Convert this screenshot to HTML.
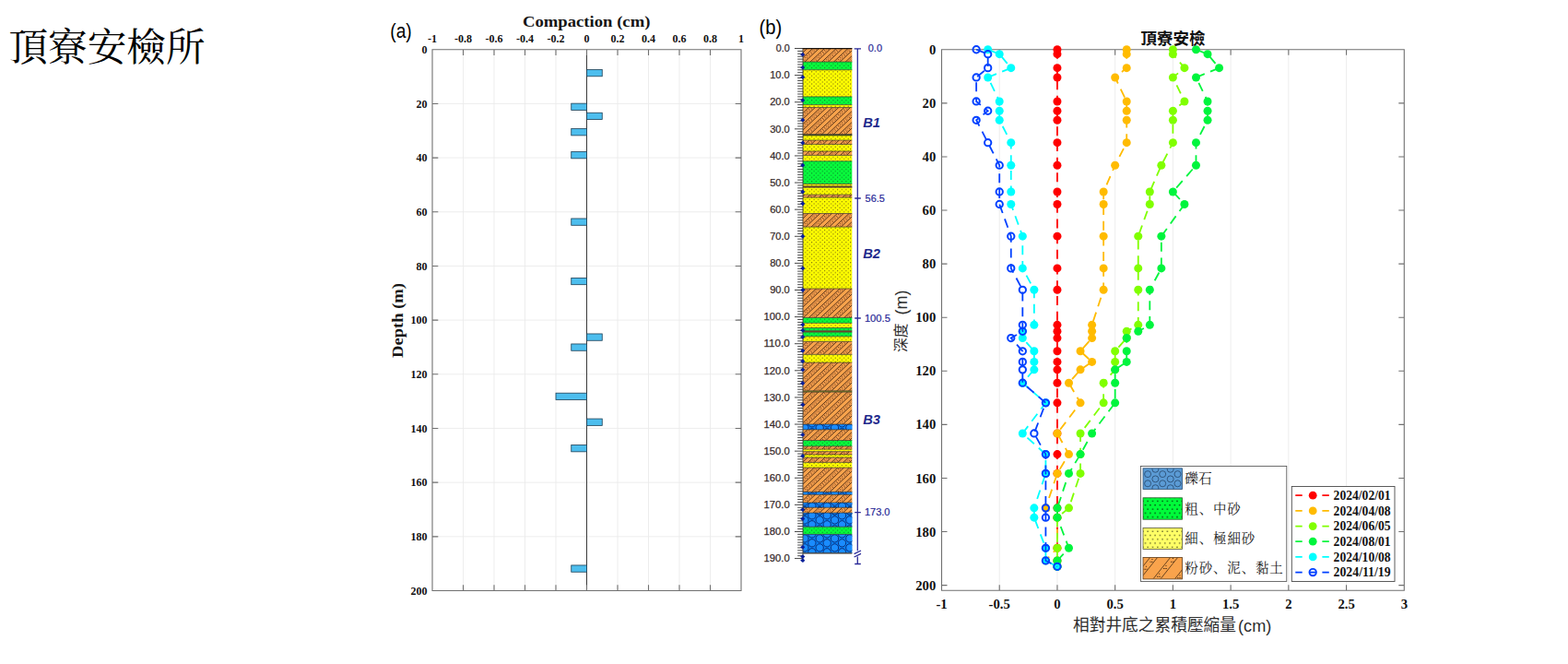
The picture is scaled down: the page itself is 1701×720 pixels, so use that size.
<!DOCTYPE html>
<html><head><meta charset="utf-8"><title>chart</title>
<style>html,body{margin:0;padding:0;background:#fff}svg{display:block}text{white-space:pre}</style></head>
<body><svg width="1701" height="720" viewBox="0 0 1701 720">
<rect width="1701" height="720" fill="#fff"/>
<text x="9.5" y="66" font-family="Liberation Serif, Noto Serif CJK SC, serif" font-size="42.6" fill="#000" textLength="213" lengthAdjust="spacingAndGlyphs">頂寮安檢所</text>
<path d="M502.50 53.75V640.5M536.00 53.75V640.5M569.50 53.75V640.5M603.00 53.75V640.5M670.00 53.75V640.5M703.50 53.75V640.5M737.00 53.75V640.5M770.50 53.75V640.5M469.0 112.43H804.0M469.0 171.10H804.0M469.0 229.78H804.0M469.0 288.45H804.0M469.0 347.12H804.0M469.0 405.80H804.0M469.0 464.47H804.0M469.0 523.15H804.0M469.0 581.83H804.0" stroke="#ebebeb" stroke-width="0.9" fill="none"/>
<path d="M636.50 53.75V640.5" stroke="#3a3a3a" stroke-width="1"/>
<rect x="636.50" y="75.48" width="16.75" height="7.3" fill="#4dbeee" stroke="#1d3f55" stroke-width="0.8"/>
<rect x="619.75" y="112.15" width="16.75" height="7.3" fill="#4dbeee" stroke="#1d3f55" stroke-width="0.8"/>
<rect x="636.50" y="122.27" width="16.75" height="7.3" fill="#4dbeee" stroke="#1d3f55" stroke-width="0.8"/>
<rect x="619.75" y="139.58" width="16.75" height="7.3" fill="#4dbeee" stroke="#1d3f55" stroke-width="0.8"/>
<rect x="619.75" y="164.52" width="16.75" height="7.3" fill="#4dbeee" stroke="#1d3f55" stroke-width="0.8"/>
<rect x="619.75" y="236.98" width="16.75" height="7.3" fill="#4dbeee" stroke="#1d3f55" stroke-width="0.8"/>
<rect x="619.75" y="301.38" width="16.75" height="7.3" fill="#4dbeee" stroke="#1d3f55" stroke-width="0.8"/>
<rect x="636.50" y="361.96" width="16.75" height="7.3" fill="#4dbeee" stroke="#1d3f55" stroke-width="0.8"/>
<rect x="619.75" y="372.96" width="16.75" height="7.3" fill="#4dbeee" stroke="#1d3f55" stroke-width="0.8"/>
<rect x="603.00" y="426.21" width="33.50" height="7.3" fill="#4dbeee" stroke="#1d3f55" stroke-width="0.8"/>
<rect x="636.50" y="454.08" width="16.75" height="7.3" fill="#4dbeee" stroke="#1d3f55" stroke-width="0.8"/>
<rect x="619.75" y="482.53" width="16.75" height="7.3" fill="#4dbeee" stroke="#1d3f55" stroke-width="0.8"/>
<rect x="619.75" y="612.94" width="16.75" height="7.3" fill="#4dbeee" stroke="#1d3f55" stroke-width="0.8"/>
<path d="M469.0 53.75H804.0V640.5H469.0ZM502.50 53.75v6.3M502.50 640.5v-6.3M536.00 53.75v6.3M536.00 640.5v-6.3M569.50 53.75v6.3M569.50 640.5v-6.3M603.00 53.75v6.3M603.00 640.5v-6.3M636.50 53.75v6.3M636.50 640.5v-6.3M670.00 53.75v6.3M670.00 640.5v-6.3M703.50 53.75v6.3M703.50 640.5v-6.3M737.00 53.75v6.3M737.00 640.5v-6.3M770.50 53.75v6.3M770.50 640.5v-6.3M469.0 112.43h6.3M804.0 112.43h-6.3M469.0 171.10h6.3M804.0 171.10h-6.3M469.0 229.78h6.3M804.0 229.78h-6.3M469.0 288.45h6.3M804.0 288.45h-6.3M469.0 347.12h6.3M804.0 347.12h-6.3M469.0 405.80h6.3M804.0 405.80h-6.3M469.0 464.47h6.3M804.0 464.47h-6.3M469.0 523.15h6.3M804.0 523.15h-6.3M469.0 581.83h6.3M804.0 581.83h-6.3" stroke="#707070" stroke-width="1.1" fill="none"/>
<text x="469.00" y="46.2" font-family="Liberation Serif, serif" font-weight="bold" font-size="12" text-anchor="middle" fill="#111">-1</text>
<text x="502.50" y="46.2" font-family="Liberation Serif, serif" font-weight="bold" font-size="12" text-anchor="middle" fill="#111">-0.8</text>
<text x="536.00" y="46.2" font-family="Liberation Serif, serif" font-weight="bold" font-size="12" text-anchor="middle" fill="#111">-0.6</text>
<text x="569.50" y="46.2" font-family="Liberation Serif, serif" font-weight="bold" font-size="12" text-anchor="middle" fill="#111">-0.4</text>
<text x="603.00" y="46.2" font-family="Liberation Serif, serif" font-weight="bold" font-size="12" text-anchor="middle" fill="#111">-0.2</text>
<text x="636.50" y="46.2" font-family="Liberation Serif, serif" font-weight="bold" font-size="12" text-anchor="middle" fill="#111">0</text>
<text x="670.00" y="46.2" font-family="Liberation Serif, serif" font-weight="bold" font-size="12" text-anchor="middle" fill="#111">0.2</text>
<text x="703.50" y="46.2" font-family="Liberation Serif, serif" font-weight="bold" font-size="12" text-anchor="middle" fill="#111">0.4</text>
<text x="737.00" y="46.2" font-family="Liberation Serif, serif" font-weight="bold" font-size="12" text-anchor="middle" fill="#111">0.6</text>
<text x="770.50" y="46.2" font-family="Liberation Serif, serif" font-weight="bold" font-size="12" text-anchor="middle" fill="#111">0.8</text>
<text x="804.00" y="46.2" font-family="Liberation Serif, serif" font-weight="bold" font-size="12" text-anchor="middle" fill="#111">1</text>
<text x="463.5" y="58.05" font-family="Liberation Serif, serif" font-weight="bold" font-size="12" text-anchor="end" fill="#111">0</text>
<text x="463.5" y="116.73" font-family="Liberation Serif, serif" font-weight="bold" font-size="12" text-anchor="end" fill="#111">20</text>
<text x="463.5" y="175.40" font-family="Liberation Serif, serif" font-weight="bold" font-size="12" text-anchor="end" fill="#111">40</text>
<text x="463.5" y="234.08" font-family="Liberation Serif, serif" font-weight="bold" font-size="12" text-anchor="end" fill="#111">60</text>
<text x="463.5" y="292.75" font-family="Liberation Serif, serif" font-weight="bold" font-size="12" text-anchor="end" fill="#111">80</text>
<text x="463.5" y="351.43" font-family="Liberation Serif, serif" font-weight="bold" font-size="12" text-anchor="end" fill="#111">100</text>
<text x="463.5" y="410.10" font-family="Liberation Serif, serif" font-weight="bold" font-size="12" text-anchor="end" fill="#111">120</text>
<text x="463.5" y="468.77" font-family="Liberation Serif, serif" font-weight="bold" font-size="12" text-anchor="end" fill="#111">140</text>
<text x="463.5" y="527.45" font-family="Liberation Serif, serif" font-weight="bold" font-size="12" text-anchor="end" fill="#111">160</text>
<text x="463.5" y="586.12" font-family="Liberation Serif, serif" font-weight="bold" font-size="12" text-anchor="end" fill="#111">180</text>
<text x="463.5" y="644.80" font-family="Liberation Serif, serif" font-weight="bold" font-size="12" text-anchor="end" fill="#111">200</text>
<text x="636.2" y="29" font-family="Liberation Serif, serif" font-weight="bold" font-size="17.6" text-anchor="middle" fill="#151515" textLength="138.5" lengthAdjust="spacingAndGlyphs">Compaction (cm)</text>
<text transform="translate(436.9,388) rotate(-90)" font-family="Liberation Serif, serif" font-weight="bold" font-size="17.6" fill="#151515" textLength="81" lengthAdjust="spacingAndGlyphs">Depth (m)</text>
<text x="423.3" y="41.0" font-family="Liberation Sans, sans-serif" font-size="22.4" fill="#000" textLength="23.4" lengthAdjust="spacingAndGlyphs">(a)</text>
<text x="823.5" y="37.0" font-family="Liberation Sans, sans-serif" font-size="22.4" fill="#000" textLength="24.8" lengthAdjust="spacingAndGlyphs">(b)</text>
<defs>
<pattern id="pO" patternUnits="userSpaceOnUse" width="5.2" height="6.9" patternTransform="translate(871,52) rotate(-32)">
<rect width="5.2" height="6.9" fill="#f9a34c"/>
<path d="M0 0.6H5.2M0 4.0H5.2" stroke="#4a2c14" stroke-width="0.65"/>
<path d="M0.6 1.7h0.9M3.2 2.9h0.9" stroke="#7a4a20" stroke-width="0.7"/>
</pattern>
<pattern id="pY" patternUnits="userSpaceOnUse" width="4.66" height="4.4" patternTransform="translate(872.6,52.6)">
<rect width="4.66" height="4.4" fill="#ffff00"/>
<circle cx="1.1" cy="1.1" r="0.62" fill="#6b5a10"/><circle cx="3.43" cy="3.3" r="0.62" fill="#6b5a10"/>
</pattern>
<pattern id="pG" patternUnits="userSpaceOnUse" width="4.66" height="4.4" patternTransform="translate(872.6,52.6)">
<rect width="4.66" height="4.4" fill="#08fb3c"/>
<circle cx="1.1" cy="1.1" r="0.62" fill="#0a7a28"/><circle cx="3.43" cy="3.3" r="0.62" fill="#0a7a28"/>
</pattern>
<pattern id="pB" patternUnits="userSpaceOnUse" width="16" height="10" patternTransform="translate(871,552.5)">
<rect width="16" height="10" fill="#0a84fb"/>
<g fill="none" stroke="#0b2f7a" stroke-width="0.65"><circle cx="4" cy="0" r="3.4"/><circle cx="4" cy="10" r="3.4"/><circle cx="12" cy="5" r="3.4"/>
<circle cx="12" cy="0" r="1.1" stroke-width="0.5"/><circle cx="12" cy="10" r="1.1" stroke-width="0.5"/><circle cx="4" cy="5" r="1.1" stroke-width="0.5"/></g>
</pattern>
<pattern id="lB" patternUnits="userSpaceOnUse" width="16.3" height="10.3" patternTransform="translate(1237,508.8)">
<rect width="16.3" height="10.3" fill="#5b9bd5"/>
<g fill="none" stroke="#27486b" stroke-width="0.85"><circle cx="8.15" cy="5.15" r="4.15"/><circle cx="0" cy="0" r="4.15"/><circle cx="16.3" cy="0" r="4.15"/><circle cx="0" cy="10.3" r="4.15"/><circle cx="16.3" cy="10.3" r="4.15"/></g>
</pattern>
<pattern id="lG" patternUnits="userSpaceOnUse" width="5.3" height="8.6" patternTransform="translate(1239.9,541.3)">
<rect width="5.3" height="8.6" fill="#00fb3a"/>
<circle cx="2.65" cy="6.45" r="0.75" fill="#061a06"/><circle cx="0" cy="2.15" r="0.75" fill="#061a06"/><circle cx="5.3" cy="2.15" r="0.75" fill="#061a06"/>
</pattern>
<pattern id="lY" patternUnits="userSpaceOnUse" width="5.3" height="8.6" patternTransform="translate(1239.9,574.0)">
<rect width="5.3" height="8.6" fill="#ffff66"/>
<circle cx="2.65" cy="6.45" r="0.7" fill="#2a2a10"/><circle cx="0" cy="2.15" r="0.7" fill="#2a2a10"/><circle cx="5.3" cy="2.15" r="0.7" fill="#2a2a10"/>
</pattern>
</defs>
<path d="M862 52.50H871.0M865.2 55.41H871.0M865.2 58.32H871.0M865.2 61.23H871.0M865.2 64.14H871.0M865.2 67.06H871.0M865.2 69.97H871.0M865.2 72.88H871.0M865.2 75.79H871.0M865.2 78.70H871.0M862 81.61H871.0M865.2 84.52H871.0M865.2 87.43H871.0M865.2 90.34H871.0M865.2 93.25H871.0M865.2 96.16H871.0M865.2 99.08H871.0M865.2 101.99H871.0M865.2 104.90H871.0M865.2 107.81H871.0M862 110.72H871.0M865.2 113.63H871.0M865.2 116.54H871.0M865.2 119.45H871.0M865.2 122.36H871.0M865.2 125.28H871.0M865.2 128.19H871.0M865.2 131.10H871.0M865.2 134.01H871.0M865.2 136.92H871.0M862 139.83H871.0M865.2 142.74H871.0M865.2 145.65H871.0M865.2 148.56H871.0M865.2 151.47H871.0M865.2 154.38H871.0M865.2 157.30H871.0M865.2 160.21H871.0M865.2 163.12H871.0M865.2 166.03H871.0M862 168.94H871.0M865.2 171.85H871.0M865.2 174.76H871.0M865.2 177.67H871.0M865.2 180.58H871.0M865.2 183.50H871.0M865.2 186.41H871.0M865.2 189.32H871.0M865.2 192.23H871.0M865.2 195.14H871.0M862 198.05H871.0M865.2 200.96H871.0M865.2 203.87H871.0M865.2 206.78H871.0M865.2 209.69H871.0M865.2 212.60H871.0M865.2 215.52H871.0M865.2 218.43H871.0M865.2 221.34H871.0M865.2 224.25H871.0M862 227.16H871.0M865.2 230.07H871.0M865.2 232.98H871.0M865.2 235.89H871.0M865.2 238.80H871.0M865.2 241.72H871.0M865.2 244.63H871.0M865.2 247.54H871.0M865.2 250.45H871.0M865.2 253.36H871.0M862 256.27H871.0M865.2 259.18H871.0M865.2 262.09H871.0M865.2 265.00H871.0M865.2 267.91H871.0M865.2 270.82H871.0M865.2 273.74H871.0M865.2 276.65H871.0M865.2 279.56H871.0M865.2 282.47H871.0M862 285.38H871.0M865.2 288.29H871.0M865.2 291.20H871.0M865.2 294.11H871.0M865.2 297.02H871.0M865.2 299.94H871.0M865.2 302.85H871.0M865.2 305.76H871.0M865.2 308.67H871.0M865.2 311.58H871.0M862 314.49H871.0M865.2 317.40H871.0M865.2 320.31H871.0M865.2 323.22H871.0M865.2 326.13H871.0M865.2 329.05H871.0M865.2 331.96H871.0M865.2 334.87H871.0M865.2 337.78H871.0M865.2 340.69H871.0M862 343.60H871.0M865.2 346.51H871.0M865.2 349.42H871.0M865.2 352.33H871.0M865.2 355.24H871.0M865.2 358.16H871.0M865.2 361.07H871.0M865.2 363.98H871.0M865.2 366.89H871.0M865.2 369.80H871.0M862 372.71H871.0M865.2 375.62H871.0M865.2 378.53H871.0M865.2 381.44H871.0M865.2 384.35H871.0M865.2 387.26H871.0M865.2 390.18H871.0M865.2 393.09H871.0M865.2 396.00H871.0M865.2 398.91H871.0M862 401.82H871.0M865.2 404.73H871.0M865.2 407.64H871.0M865.2 410.55H871.0M865.2 413.46H871.0M865.2 416.38H871.0M865.2 419.29H871.0M865.2 422.20H871.0M865.2 425.11H871.0M865.2 428.02H871.0M862 430.93H871.0M865.2 433.84H871.0M865.2 436.75H871.0M865.2 439.66H871.0M865.2 442.57H871.0M865.2 445.49H871.0M865.2 448.40H871.0M865.2 451.31H871.0M865.2 454.22H871.0M865.2 457.13H871.0M862 460.04H871.0M865.2 462.95H871.0M865.2 465.86H871.0M865.2 468.77H871.0M865.2 471.68H871.0M865.2 474.60H871.0M865.2 477.51H871.0M865.2 480.42H871.0M865.2 483.33H871.0M865.2 486.24H871.0M862 489.15H871.0M865.2 492.06H871.0M865.2 494.97H871.0M865.2 497.88H871.0M865.2 500.79H871.0M865.2 503.70H871.0M865.2 506.62H871.0M865.2 509.53H871.0M865.2 512.44H871.0M865.2 515.35H871.0M862 518.26H871.0M865.2 521.17H871.0M865.2 524.08H871.0M865.2 526.99H871.0M865.2 529.90H871.0M865.2 532.82H871.0M865.2 535.73H871.0M865.2 538.64H871.0M865.2 541.55H871.0M865.2 544.46H871.0M862 547.37H871.0M865.2 550.28H871.0M865.2 553.19H871.0M865.2 556.10H871.0M865.2 559.01H871.0M865.2 561.92H871.0M865.2 564.84H871.0M865.2 567.75H871.0M865.2 570.66H871.0M865.2 573.57H871.0M862 576.48H871.0M865.2 579.39H871.0M865.2 582.30H871.0M865.2 585.21H871.0M865.2 588.12H871.0M865.2 591.03H871.0M865.2 593.95H871.0M865.2 596.86H871.0M865.2 599.77H871.0M865.2 602.68H871.0M862 605.59H871.0" stroke="#3d3d3d" stroke-width="0.95" fill="none"/>
<rect x="871.0" y="52.50" width="53.30" height="14.56" fill="#f9a34c"/>
<rect x="871.0" y="67.06" width="53.30" height="8.73" fill="url(#pG)"/>
<rect x="871.0" y="75.79" width="53.30" height="29.11" fill="url(#pY)"/>
<rect x="871.0" y="104.90" width="53.30" height="8.73" fill="url(#pG)"/>
<rect x="871.0" y="113.63" width="53.30" height="2.91" fill="url(#pY)"/>
<rect x="871.0" y="116.54" width="53.30" height="29.11" fill="#f9a34c"/>
<rect x="871.0" y="145.65" width="53.30" height="1.31" fill="#3c4a1a"/>
<rect x="871.0" y="146.96" width="53.30" height="5.09" fill="url(#pY)"/>
<rect x="871.0" y="152.06" width="53.30" height="4.37" fill="#f9a34c"/>
<rect x="871.0" y="156.42" width="53.30" height="7.57" fill="url(#pY)"/>
<rect x="871.0" y="163.99" width="53.30" height="4.37" fill="#f9a34c"/>
<rect x="871.0" y="168.36" width="53.30" height="6.40" fill="url(#pY)"/>
<rect x="871.0" y="174.76" width="53.30" height="24.74" fill="url(#pG)"/>
<rect x="871.0" y="199.51" width="53.30" height="2.33" fill="url(#pY)"/>
<rect x="871.0" y="201.83" width="53.30" height="1.46" fill="#8a5a2a"/>
<rect x="871.0" y="203.29" width="53.30" height="7.86" fill="url(#pY)"/>
<rect x="871.0" y="211.15" width="53.30" height="2.91" fill="#f9a34c"/>
<rect x="871.0" y="214.06" width="53.30" height="17.47" fill="url(#pY)"/>
<rect x="871.0" y="231.53" width="53.30" height="14.56" fill="#f9a34c"/>
<rect x="871.0" y="246.08" width="53.30" height="66.95" fill="url(#pY)"/>
<rect x="871.0" y="313.03" width="53.30" height="31.44" fill="#f9a34c"/>
<rect x="871.0" y="344.47" width="53.30" height="5.82" fill="url(#pG)"/>
<rect x="871.0" y="350.30" width="53.30" height="5.24" fill="url(#pY)"/>
<rect x="871.0" y="355.54" width="53.30" height="3.20" fill="url(#pG)"/>
<rect x="871.0" y="358.74" width="53.30" height="1.46" fill="#8a5a2a"/>
<rect x="871.0" y="360.19" width="53.30" height="4.66" fill="url(#pG)"/>
<rect x="871.0" y="364.85" width="53.30" height="5.53" fill="url(#pY)"/>
<rect x="871.0" y="370.38" width="53.30" height="13.97" fill="#f9a34c"/>
<rect x="871.0" y="384.35" width="53.30" height="8.73" fill="url(#pY)"/>
<rect x="871.0" y="393.09" width="53.30" height="30.71" fill="#f9a34c"/>
<rect x="871.0" y="423.80" width="53.30" height="1.31" fill="#8a8a2a"/>
<rect x="871.0" y="425.11" width="53.30" height="34.93" fill="#f9a34c"/>
<rect x="871.0" y="460.04" width="53.30" height="5.82" fill="#0a84fb"/>
<rect x="871.0" y="465.86" width="53.30" height="11.64" fill="#f9a34c"/>
<rect x="871.0" y="477.51" width="53.30" height="6.40" fill="url(#pG)"/>
<rect x="871.0" y="483.91" width="53.30" height="3.20" fill="#f9a34c"/>
<rect x="871.0" y="487.11" width="53.30" height="2.62" fill="url(#pY)"/>
<rect x="871.0" y="489.73" width="53.30" height="3.20" fill="#f9a34c"/>
<rect x="871.0" y="492.93" width="53.30" height="3.20" fill="url(#pY)"/>
<rect x="871.0" y="496.14" width="53.30" height="5.24" fill="#f9a34c"/>
<rect x="871.0" y="501.38" width="53.30" height="5.82" fill="url(#pY)"/>
<rect x="871.0" y="507.20" width="53.30" height="26.20" fill="#f9a34c"/>
<rect x="871.0" y="533.40" width="53.30" height="2.91" fill="#0a84fb"/>
<rect x="871.0" y="536.31" width="53.30" height="8.73" fill="#f9a34c"/>
<rect x="871.0" y="545.04" width="53.30" height="5.24" fill="#0a84fb"/>
<rect x="871.0" y="550.28" width="53.30" height="5.82" fill="#f9a34c"/>
<rect x="871.0" y="556.10" width="53.30" height="15.14" fill="#0a84fb"/>
<rect x="871.0" y="571.24" width="53.30" height="8.15" fill="url(#pG)"/>
<rect x="871.0" y="579.39" width="53.30" height="20.38" fill="#0a84fb"/>
<clipPath id="clO"><rect x="871.0" y="52.50" width="53.30" height="14.56"/><rect x="871.0" y="116.54" width="53.30" height="29.11"/><rect x="871.0" y="152.06" width="53.30" height="4.37"/><rect x="871.0" y="163.99" width="53.30" height="4.37"/><rect x="871.0" y="211.15" width="53.30" height="2.91"/><rect x="871.0" y="231.53" width="53.30" height="14.56"/><rect x="871.0" y="313.03" width="53.30" height="31.44"/><rect x="871.0" y="370.38" width="53.30" height="13.97"/><rect x="871.0" y="393.09" width="53.30" height="30.71"/><rect x="871.0" y="425.11" width="53.30" height="34.93"/><rect x="871.0" y="465.86" width="53.30" height="11.64"/><rect x="871.0" y="483.91" width="53.30" height="3.20"/><rect x="871.0" y="489.73" width="53.30" height="3.20"/><rect x="871.0" y="496.14" width="53.30" height="5.24"/><rect x="871.0" y="507.20" width="53.30" height="26.20"/><rect x="871.0" y="536.31" width="53.30" height="8.73"/><rect x="871.0" y="550.28" width="53.30" height="5.82"/></clipPath>
<g clip-path="url(#clO)">
<path d="M871.0 50.60L924.3 0.44V6.84L871.0 57.00ZM871.0 62.60L924.3 12.44V18.84L871.0 69.00ZM871.0 74.60L924.3 24.44V30.84L871.0 81.00ZM871.0 86.60L924.3 36.44V42.84L871.0 93.00ZM871.0 98.60L924.3 48.44V54.84L871.0 105.00ZM871.0 110.60L924.3 60.44V66.84L871.0 117.00ZM871.0 122.60L924.3 72.44V78.84L871.0 129.00ZM871.0 134.60L924.3 84.44V90.84L871.0 141.00ZM871.0 146.60L924.3 96.44V102.84L871.0 153.00ZM871.0 158.60L924.3 108.44V114.84L871.0 165.00ZM871.0 170.60L924.3 120.44V126.84L871.0 177.00ZM871.0 182.60L924.3 132.44V138.84L871.0 189.00ZM871.0 194.60L924.3 144.44V150.84L871.0 201.00ZM871.0 206.60L924.3 156.44V162.84L871.0 213.00ZM871.0 218.60L924.3 168.44V174.84L871.0 225.00ZM871.0 230.60L924.3 180.44V186.84L871.0 237.00ZM871.0 242.60L924.3 192.44V198.84L871.0 249.00ZM871.0 254.60L924.3 204.44V210.84L871.0 261.00ZM871.0 266.60L924.3 216.44V222.84L871.0 273.00ZM871.0 278.60L924.3 228.44V234.84L871.0 285.00ZM871.0 290.60L924.3 240.44V246.84L871.0 297.00ZM871.0 302.60L924.3 252.44V258.84L871.0 309.00ZM871.0 314.60L924.3 264.44V270.84L871.0 321.00ZM871.0 326.60L924.3 276.44V282.84L871.0 333.00ZM871.0 338.60L924.3 288.44V294.84L871.0 345.00ZM871.0 350.60L924.3 300.44V306.84L871.0 357.00ZM871.0 362.60L924.3 312.44V318.84L871.0 369.00ZM871.0 374.60L924.3 324.44V330.84L871.0 381.00ZM871.0 386.60L924.3 336.44V342.84L871.0 393.00ZM871.0 398.60L924.3 348.44V354.84L871.0 405.00ZM871.0 410.60L924.3 360.44V366.84L871.0 417.00ZM871.0 422.60L924.3 372.44V378.84L871.0 429.00ZM871.0 434.60L924.3 384.44V390.84L871.0 441.00ZM871.0 446.60L924.3 396.44V402.84L871.0 453.00ZM871.0 458.60L924.3 408.44V414.84L871.0 465.00ZM871.0 470.60L924.3 420.44V426.84L871.0 477.00ZM871.0 482.60L924.3 432.44V438.84L871.0 489.00ZM871.0 494.60L924.3 444.44V450.84L871.0 501.00ZM871.0 506.60L924.3 456.44V462.84L871.0 513.00ZM871.0 518.60L924.3 468.44V474.84L871.0 525.00ZM871.0 530.60L924.3 480.44V486.84L871.0 537.00ZM871.0 542.60L924.3 492.44V498.84L871.0 549.00ZM871.0 554.60L924.3 504.44V510.84L871.0 561.00ZM871.0 566.60L924.3 516.44V522.84L871.0 573.00ZM871.0 578.60L924.3 528.44V534.84L871.0 585.00ZM871.0 590.60L924.3 540.44V546.84L871.0 597.00ZM871.0 602.60L924.3 552.44V558.84L871.0 609.00ZM871.0 614.60L924.3 564.44V570.84L871.0 621.00ZM871.0 626.60L924.3 576.44V582.84L871.0 633.00ZM871.0 638.60L924.3 588.44V594.84L871.0 645.00ZM871.0 650.60L924.3 600.44V606.84L871.0 657.00Z" fill="#f09c4d"/>
<path d="M871.0 52.78L924.3 2.61M871.0 64.78L924.3 14.61M871.0 76.78L924.3 26.61M871.0 88.78L924.3 38.61M871.0 100.78L924.3 50.61M871.0 112.78L924.3 62.61M871.0 124.78L924.3 74.61M871.0 136.78L924.3 86.61M871.0 148.78L924.3 98.61M871.0 160.78L924.3 110.61M871.0 172.78L924.3 122.61M871.0 184.78L924.3 134.61M871.0 196.78L924.3 146.61M871.0 208.78L924.3 158.61M871.0 220.78L924.3 170.61M871.0 232.78L924.3 182.61M871.0 244.78L924.3 194.61M871.0 256.78L924.3 206.61M871.0 268.78L924.3 218.61M871.0 280.78L924.3 230.61M871.0 292.78L924.3 242.61M871.0 304.78L924.3 254.61M871.0 316.78L924.3 266.61M871.0 328.78L924.3 278.61M871.0 340.78L924.3 290.61M871.0 352.78L924.3 302.61M871.0 364.78L924.3 314.61M871.0 376.78L924.3 326.61M871.0 388.78L924.3 338.61M871.0 400.78L924.3 350.61M871.0 412.78L924.3 362.61M871.0 424.78L924.3 374.61M871.0 436.78L924.3 386.61M871.0 448.78L924.3 398.61M871.0 460.78L924.3 410.61M871.0 472.78L924.3 422.61M871.0 484.78L924.3 434.61M871.0 496.78L924.3 446.61M871.0 508.78L924.3 458.61M871.0 520.78L924.3 470.61M871.0 532.78L924.3 482.61M871.0 544.78L924.3 494.61M871.0 556.78L924.3 506.61M871.0 568.78L924.3 518.61M871.0 580.78L924.3 530.61M871.0 592.78L924.3 542.61M871.0 604.78L924.3 554.61M871.0 616.78L924.3 566.61M871.0 628.78L924.3 578.61M871.0 640.78L924.3 590.61M871.0 652.78L924.3 602.61" stroke="#55290f" stroke-width="1.0" stroke-dasharray="1 1.9" fill="none"/>
<path d="M871.0 54.95L924.3 4.79M871.0 66.95L924.3 16.79M871.0 78.95L924.3 28.79M871.0 90.95L924.3 40.79M871.0 102.95L924.3 52.79M871.0 114.95L924.3 64.79M871.0 126.95L924.3 76.79M871.0 138.95L924.3 88.79M871.0 150.95L924.3 100.79M871.0 162.95L924.3 112.79M871.0 174.95L924.3 124.79M871.0 186.95L924.3 136.79M871.0 198.95L924.3 148.79M871.0 210.95L924.3 160.79M871.0 222.95L924.3 172.79M871.0 234.95L924.3 184.79M871.0 246.95L924.3 196.79M871.0 258.95L924.3 208.79M871.0 270.95L924.3 220.79M871.0 282.95L924.3 232.79M871.0 294.95L924.3 244.79M871.0 306.95L924.3 256.79M871.0 318.95L924.3 268.79M871.0 330.95L924.3 280.79M871.0 342.95L924.3 292.79M871.0 354.95L924.3 304.79M871.0 366.95L924.3 316.79M871.0 378.95L924.3 328.79M871.0 390.95L924.3 340.79M871.0 402.95L924.3 352.79M871.0 414.95L924.3 364.79M871.0 426.95L924.3 376.79M871.0 438.95L924.3 388.79M871.0 450.95L924.3 400.79M871.0 462.95L924.3 412.79M871.0 474.95L924.3 424.79M871.0 486.95L924.3 436.79M871.0 498.95L924.3 448.79M871.0 510.95L924.3 460.79M871.0 522.95L924.3 472.79M871.0 534.95L924.3 484.79M871.0 546.95L924.3 496.79M871.0 558.95L924.3 508.79M871.0 570.95L924.3 520.79M871.0 582.95L924.3 532.79M871.0 594.95L924.3 544.79M871.0 606.95L924.3 556.79M871.0 618.95L924.3 568.79M871.0 630.95L924.3 580.79M871.0 642.95L924.3 592.79M871.0 654.95L924.3 604.79" stroke="#55290f" stroke-width="1.0" stroke-dasharray="1 2.5" stroke-dashoffset="1.3" fill="none"/>
<path d="M871.0 50.60L924.3 0.44M871.0 57.00L924.3 6.84M871.0 62.60L924.3 12.44M871.0 69.00L924.3 18.84M871.0 74.60L924.3 24.44M871.0 81.00L924.3 30.84M871.0 86.60L924.3 36.44M871.0 93.00L924.3 42.84M871.0 98.60L924.3 48.44M871.0 105.00L924.3 54.84M871.0 110.60L924.3 60.44M871.0 117.00L924.3 66.84M871.0 122.60L924.3 72.44M871.0 129.00L924.3 78.84M871.0 134.60L924.3 84.44M871.0 141.00L924.3 90.84M871.0 146.60L924.3 96.44M871.0 153.00L924.3 102.84M871.0 158.60L924.3 108.44M871.0 165.00L924.3 114.84M871.0 170.60L924.3 120.44M871.0 177.00L924.3 126.84M871.0 182.60L924.3 132.44M871.0 189.00L924.3 138.84M871.0 194.60L924.3 144.44M871.0 201.00L924.3 150.84M871.0 206.60L924.3 156.44M871.0 213.00L924.3 162.84M871.0 218.60L924.3 168.44M871.0 225.00L924.3 174.84M871.0 230.60L924.3 180.44M871.0 237.00L924.3 186.84M871.0 242.60L924.3 192.44M871.0 249.00L924.3 198.84M871.0 254.60L924.3 204.44M871.0 261.00L924.3 210.84M871.0 266.60L924.3 216.44M871.0 273.00L924.3 222.84M871.0 278.60L924.3 228.44M871.0 285.00L924.3 234.84M871.0 290.60L924.3 240.44M871.0 297.00L924.3 246.84M871.0 302.60L924.3 252.44M871.0 309.00L924.3 258.84M871.0 314.60L924.3 264.44M871.0 321.00L924.3 270.84M871.0 326.60L924.3 276.44M871.0 333.00L924.3 282.84M871.0 338.60L924.3 288.44M871.0 345.00L924.3 294.84M871.0 350.60L924.3 300.44M871.0 357.00L924.3 306.84M871.0 362.60L924.3 312.44M871.0 369.00L924.3 318.84M871.0 374.60L924.3 324.44M871.0 381.00L924.3 330.84M871.0 386.60L924.3 336.44M871.0 393.00L924.3 342.84M871.0 398.60L924.3 348.44M871.0 405.00L924.3 354.84M871.0 410.60L924.3 360.44M871.0 417.00L924.3 366.84M871.0 422.60L924.3 372.44M871.0 429.00L924.3 378.84M871.0 434.60L924.3 384.44M871.0 441.00L924.3 390.84M871.0 446.60L924.3 396.44M871.0 453.00L924.3 402.84M871.0 458.60L924.3 408.44M871.0 465.00L924.3 414.84M871.0 470.60L924.3 420.44M871.0 477.00L924.3 426.84M871.0 482.60L924.3 432.44M871.0 489.00L924.3 438.84M871.0 494.60L924.3 444.44M871.0 501.00L924.3 450.84M871.0 506.60L924.3 456.44M871.0 513.00L924.3 462.84M871.0 518.60L924.3 468.44M871.0 525.00L924.3 474.84M871.0 530.60L924.3 480.44M871.0 537.00L924.3 486.84M871.0 542.60L924.3 492.44M871.0 549.00L924.3 498.84M871.0 554.60L924.3 504.44M871.0 561.00L924.3 510.84M871.0 566.60L924.3 516.44M871.0 573.00L924.3 522.84M871.0 578.60L924.3 528.44M871.0 585.00L924.3 534.84M871.0 590.60L924.3 540.44M871.0 597.00L924.3 546.84M871.0 602.60L924.3 552.44M871.0 609.00L924.3 558.84M871.0 614.60L924.3 564.44M871.0 621.00L924.3 570.84M871.0 626.60L924.3 576.44M871.0 633.00L924.3 582.84M871.0 638.60L924.3 588.44M871.0 645.00L924.3 594.84M871.0 650.60L924.3 600.44M871.0 657.00L924.3 606.84" stroke="#40220f" stroke-width="0.85" fill="none"/>
</g>
<clipPath id="clB"><rect x="871.0" y="460.04" width="53.30" height="5.82"/><rect x="871.0" y="533.40" width="53.30" height="2.91"/><rect x="871.0" y="545.04" width="53.30" height="5.24"/><rect x="871.0" y="556.10" width="53.30" height="15.14"/><rect x="871.0" y="579.39" width="53.30" height="20.38"/></clipPath>
<g clip-path="url(#clB)" fill="#1a8cff" stroke="#0a2568" stroke-width="0.9"><circle cx="880.9" cy="458.8" r="4.15"/><circle cx="897.2" cy="458.8" r="4.15"/><circle cx="913.5" cy="458.8" r="4.15"/><circle cx="880.9" cy="468.8" r="4.15"/><circle cx="897.2" cy="468.8" r="4.15"/><circle cx="913.5" cy="468.8" r="4.15"/><circle cx="872.9" cy="463.9" r="4.15"/><circle cx="889.2" cy="463.9" r="4.15"/><circle cx="905.5" cy="463.9" r="4.15"/><circle cx="921.8" cy="463.9" r="4.15"/><circle cx="880.9" cy="538.8" r="4.15"/><circle cx="897.2" cy="538.8" r="4.15"/><circle cx="913.5" cy="538.8" r="4.15"/><circle cx="872.9" cy="533.9" r="4.15"/><circle cx="889.2" cy="533.9" r="4.15"/><circle cx="905.5" cy="533.9" r="4.15"/><circle cx="921.8" cy="533.9" r="4.15"/><circle cx="880.9" cy="548.8" r="4.15"/><circle cx="897.2" cy="548.8" r="4.15"/><circle cx="913.5" cy="548.8" r="4.15"/><circle cx="872.9" cy="543.9" r="4.15"/><circle cx="889.2" cy="543.9" r="4.15"/><circle cx="905.5" cy="543.9" r="4.15"/><circle cx="921.8" cy="543.9" r="4.15"/><circle cx="872.9" cy="553.9" r="4.15"/><circle cx="889.2" cy="553.9" r="4.15"/><circle cx="905.5" cy="553.9" r="4.15"/><circle cx="921.8" cy="553.9" r="4.15"/><circle cx="880.9" cy="558.8" r="4.15"/><circle cx="897.2" cy="558.8" r="4.15"/><circle cx="913.5" cy="558.8" r="4.15"/><circle cx="880.9" cy="568.8" r="4.15"/><circle cx="897.2" cy="568.8" r="4.15"/><circle cx="913.5" cy="568.8" r="4.15"/><circle cx="872.9" cy="553.9" r="4.15"/><circle cx="889.2" cy="553.9" r="4.15"/><circle cx="905.5" cy="553.9" r="4.15"/><circle cx="921.8" cy="553.9" r="4.15"/><circle cx="872.9" cy="563.9" r="4.15"/><circle cx="889.2" cy="563.9" r="4.15"/><circle cx="905.5" cy="563.9" r="4.15"/><circle cx="921.8" cy="563.9" r="4.15"/><circle cx="872.9" cy="573.9" r="4.15"/><circle cx="889.2" cy="573.9" r="4.15"/><circle cx="905.5" cy="573.9" r="4.15"/><circle cx="921.8" cy="573.9" r="4.15"/><circle cx="880.9" cy="578.8" r="4.15"/><circle cx="897.2" cy="578.8" r="4.15"/><circle cx="913.5" cy="578.8" r="4.15"/><circle cx="880.9" cy="588.8" r="4.15"/><circle cx="897.2" cy="588.8" r="4.15"/><circle cx="913.5" cy="588.8" r="4.15"/><circle cx="880.9" cy="598.8" r="4.15"/><circle cx="897.2" cy="598.8" r="4.15"/><circle cx="913.5" cy="598.8" r="4.15"/><circle cx="872.9" cy="583.9" r="4.15"/><circle cx="889.2" cy="583.9" r="4.15"/><circle cx="905.5" cy="583.9" r="4.15"/><circle cx="921.8" cy="583.9" r="4.15"/><circle cx="872.9" cy="593.9" r="4.15"/><circle cx="889.2" cy="593.9" r="4.15"/><circle cx="905.5" cy="593.9" r="4.15"/><circle cx="921.8" cy="593.9" r="4.15"/></g>
<path d="M871.0 52.50H924.3M871.0 67.06H924.3M871.0 75.79H924.3M871.0 104.90H924.3M871.0 113.63H924.3M871.0 116.54H924.3M871.0 145.65H924.3M871.0 146.96H924.3M871.0 152.06H924.3M871.0 156.42H924.3M871.0 163.99H924.3M871.0 168.36H924.3M871.0 174.76H924.3M871.0 199.51H924.3M871.0 201.83H924.3M871.0 203.29H924.3M871.0 211.15H924.3M871.0 214.06H924.3M871.0 231.53H924.3M871.0 246.08H924.3M871.0 313.03H924.3M871.0 344.47H924.3M871.0 350.30H924.3M871.0 355.54H924.3M871.0 358.74H924.3M871.0 360.19H924.3M871.0 364.85H924.3M871.0 370.38H924.3M871.0 384.35H924.3M871.0 393.09H924.3M871.0 423.80H924.3M871.0 425.11H924.3M871.0 460.04H924.3M871.0 465.86H924.3M871.0 477.51H924.3M871.0 483.91H924.3M871.0 487.11H924.3M871.0 489.73H924.3M871.0 492.93H924.3M871.0 496.14H924.3M871.0 501.38H924.3M871.0 507.20H924.3M871.0 533.40H924.3M871.0 536.31H924.3M871.0 545.04H924.3M871.0 550.28H924.3M871.0 556.10H924.3M871.0 571.24H924.3M871.0 579.39H924.3M871.0 599.77H924.3" stroke="#2b2b22" stroke-width="0.75" fill="none" opacity="0.85"/>
<path d="M871.0 52.50V605.59" stroke="#3a3a3a" stroke-width="0.9"/>
<path d="M870.6 52.60H924.3" stroke="#1a1410" stroke-width="1.3"/>
<path d="M871.0 599.87H924.3" stroke="#4a4a4a" stroke-width="1.2"/>
<text x="856.8" y="56.20" font-family="Liberation Sans, sans-serif" font-size="10.2" text-anchor="end" fill="#3a2e2e" stroke="#3a2e2e" stroke-width="0.25" textLength="15.0" lengthAdjust="spacingAndGlyphs">0.0</text>
<text x="856.8" y="85.31" font-family="Liberation Sans, sans-serif" font-size="10.2" text-anchor="end" fill="#3a2e2e" stroke="#3a2e2e" stroke-width="0.25" textLength="21.6" lengthAdjust="spacingAndGlyphs">10.0</text>
<text x="856.8" y="114.42" font-family="Liberation Sans, sans-serif" font-size="10.2" text-anchor="end" fill="#3a2e2e" stroke="#3a2e2e" stroke-width="0.25" textLength="21.6" lengthAdjust="spacingAndGlyphs">20.0</text>
<text x="856.8" y="143.53" font-family="Liberation Sans, sans-serif" font-size="10.2" text-anchor="end" fill="#3a2e2e" stroke="#3a2e2e" stroke-width="0.25" textLength="21.6" lengthAdjust="spacingAndGlyphs">30.0</text>
<text x="856.8" y="172.64" font-family="Liberation Sans, sans-serif" font-size="10.2" text-anchor="end" fill="#3a2e2e" stroke="#3a2e2e" stroke-width="0.25" textLength="21.6" lengthAdjust="spacingAndGlyphs">40.0</text>
<text x="856.8" y="201.75" font-family="Liberation Sans, sans-serif" font-size="10.2" text-anchor="end" fill="#3a2e2e" stroke="#3a2e2e" stroke-width="0.25" textLength="21.6" lengthAdjust="spacingAndGlyphs">50.0</text>
<text x="856.8" y="230.86" font-family="Liberation Sans, sans-serif" font-size="10.2" text-anchor="end" fill="#3a2e2e" stroke="#3a2e2e" stroke-width="0.25" textLength="21.6" lengthAdjust="spacingAndGlyphs">60.0</text>
<text x="856.8" y="259.97" font-family="Liberation Sans, sans-serif" font-size="10.2" text-anchor="end" fill="#3a2e2e" stroke="#3a2e2e" stroke-width="0.25" textLength="21.6" lengthAdjust="spacingAndGlyphs">70.0</text>
<text x="856.8" y="289.08" font-family="Liberation Sans, sans-serif" font-size="10.2" text-anchor="end" fill="#3a2e2e" stroke="#3a2e2e" stroke-width="0.25" textLength="21.6" lengthAdjust="spacingAndGlyphs">80.0</text>
<text x="856.8" y="318.19" font-family="Liberation Sans, sans-serif" font-size="10.2" text-anchor="end" fill="#3a2e2e" stroke="#3a2e2e" stroke-width="0.25" textLength="21.6" lengthAdjust="spacingAndGlyphs">90.0</text>
<text x="856.8" y="347.30" font-family="Liberation Sans, sans-serif" font-size="10.2" text-anchor="end" fill="#3a2e2e" stroke="#3a2e2e" stroke-width="0.25" textLength="28.3" lengthAdjust="spacingAndGlyphs">100.0</text>
<text x="856.8" y="376.41" font-family="Liberation Sans, sans-serif" font-size="10.2" text-anchor="end" fill="#3a2e2e" stroke="#3a2e2e" stroke-width="0.25" textLength="28.3" lengthAdjust="spacingAndGlyphs">110.0</text>
<text x="856.8" y="405.52" font-family="Liberation Sans, sans-serif" font-size="10.2" text-anchor="end" fill="#3a2e2e" stroke="#3a2e2e" stroke-width="0.25" textLength="28.3" lengthAdjust="spacingAndGlyphs">120.0</text>
<text x="856.8" y="434.63" font-family="Liberation Sans, sans-serif" font-size="10.2" text-anchor="end" fill="#3a2e2e" stroke="#3a2e2e" stroke-width="0.25" textLength="28.3" lengthAdjust="spacingAndGlyphs">130.0</text>
<text x="856.8" y="463.74" font-family="Liberation Sans, sans-serif" font-size="10.2" text-anchor="end" fill="#3a2e2e" stroke="#3a2e2e" stroke-width="0.25" textLength="28.3" lengthAdjust="spacingAndGlyphs">140.0</text>
<text x="856.8" y="492.85" font-family="Liberation Sans, sans-serif" font-size="10.2" text-anchor="end" fill="#3a2e2e" stroke="#3a2e2e" stroke-width="0.25" textLength="28.3" lengthAdjust="spacingAndGlyphs">150.0</text>
<text x="856.8" y="521.96" font-family="Liberation Sans, sans-serif" font-size="10.2" text-anchor="end" fill="#3a2e2e" stroke="#3a2e2e" stroke-width="0.25" textLength="28.3" lengthAdjust="spacingAndGlyphs">160.0</text>
<text x="856.8" y="551.07" font-family="Liberation Sans, sans-serif" font-size="10.2" text-anchor="end" fill="#3a2e2e" stroke="#3a2e2e" stroke-width="0.25" textLength="28.3" lengthAdjust="spacingAndGlyphs">170.0</text>
<text x="856.8" y="580.18" font-family="Liberation Sans, sans-serif" font-size="10.2" text-anchor="end" fill="#3a2e2e" stroke="#3a2e2e" stroke-width="0.25" textLength="28.3" lengthAdjust="spacingAndGlyphs">180.0</text>
<text x="856.8" y="609.29" font-family="Liberation Sans, sans-serif" font-size="10.2" text-anchor="end" fill="#3a2e2e" stroke="#3a2e2e" stroke-width="0.25" textLength="28.3" lengthAdjust="spacingAndGlyphs">190.0</text>
<path d="M868.10 59.20L871.00 56.80L873.30 59.20L871.00 61.60ZM868.10 73.17L871.00 70.77L873.30 73.17L871.00 75.57ZM868.10 83.65L871.00 81.25L873.30 83.65L871.00 86.05ZM868.10 108.68L871.00 106.28L873.30 108.68L871.00 111.08ZM868.10 130.22L871.00 127.82L873.30 130.22L871.00 132.62ZM868.10 154.97L871.00 152.57L873.30 154.97L871.00 157.37ZM868.10 179.13L871.00 176.73L873.30 179.13L871.00 181.53ZM868.10 207.95L871.00 205.55L873.30 207.95L871.00 210.35ZM868.10 220.76L871.00 218.36L873.30 220.76L871.00 223.16ZM868.10 256.27L871.00 253.87L873.30 256.27L871.00 258.67ZM868.10 290.91L871.00 288.51L873.30 290.91L871.00 293.31ZM868.10 314.49L871.00 312.09L873.30 314.49L871.00 316.89ZM868.10 352.04L871.00 349.64L873.30 352.04L871.00 354.44ZM868.10 358.16L871.00 355.76L873.30 358.16L871.00 360.56ZM868.10 365.43L871.00 363.03L873.30 365.43L871.00 367.83ZM868.10 380.28L871.00 377.88L873.30 380.28L871.00 382.68ZM868.10 391.63L871.00 389.23L873.30 391.63L871.00 394.03ZM868.10 400.95L871.00 398.55L873.30 400.95L871.00 403.35ZM868.10 415.50L871.00 413.10L873.30 415.50L871.00 417.90ZM868.10 438.79L871.00 436.39L873.30 438.79L871.00 441.19ZM868.10 471.39L871.00 468.99L873.30 471.39L871.00 473.79ZM868.10 494.39L871.00 491.99L873.30 494.39L871.00 496.79ZM868.10 552.61L871.00 550.21L873.30 552.61L871.00 555.01ZM868.10 562.51L871.00 560.11L873.30 562.51L871.00 564.91ZM868.10 593.36L871.00 590.96L873.30 593.36L871.00 595.76ZM868.10 603.55L871.00 601.15L873.30 603.55L871.00 605.95ZM868.10 607.63L871.00 605.23L873.30 607.63L871.00 610.03Z" fill="#0a209a"/>
<path d="M930.3 52.8V597.2M926.7 52.8H934M927.2 215H933.8M927.2 345H933.8M927.2 555.6H933.8M930.3 603.6V611.5M927.2 611.5H933.8M926.6 600.6L934 597.0M926.6 604.0L934 600.4" stroke="#2a2a98" stroke-width="1.3" fill="none"/>
<text x="941.8" y="56.2" font-family="Liberation Sans, sans-serif" font-size="10.2" fill="#2a2a98" stroke="#2a2a98" stroke-width="0.2" textLength="15.2" lengthAdjust="spacingAndGlyphs">0.0</text>
<text x="938.6" y="218.8" font-family="Liberation Sans, sans-serif" font-size="10.2" fill="#2a2a98" stroke="#2a2a98" stroke-width="0.2" textLength="21.2" lengthAdjust="spacingAndGlyphs">56.5</text>
<text x="937.9" y="348.8" font-family="Liberation Sans, sans-serif" font-size="10.2" fill="#2a2a98" stroke="#2a2a98" stroke-width="0.2" textLength="28.0" lengthAdjust="spacingAndGlyphs">100.5</text>
<text x="937.9" y="559.3" font-family="Liberation Sans, sans-serif" font-size="10.2" fill="#2a2a98" stroke="#2a2a98" stroke-width="0.2" textLength="27.6" lengthAdjust="spacingAndGlyphs">173.0</text>
<text x="936.2" y="137.6" font-family="Liberation Sans, sans-serif" font-weight="bold" font-style="italic" font-size="14.7" fill="#1f2a8c">B1</text>
<text x="936.2" y="279.7" font-family="Liberation Sans, sans-serif" font-weight="bold" font-style="italic" font-size="14.7" fill="#1f2a8c">B2</text>
<text x="936.2" y="460.2" font-family="Liberation Sans, sans-serif" font-weight="bold" font-style="italic" font-size="14.7" fill="#1f2a8c">B3</text>
<path d="M1084.22 53.75V640.3M1146.95 53.75V640.3M1209.67 53.75V640.3M1272.40 53.75V640.3M1335.12 53.75V640.3M1397.85 53.75V640.3M1460.57 53.75V640.3" stroke="#ebebeb" stroke-width="0.9" fill="none"/>
<path d="M1021.5 53.75H1523.3V640.3H1021.5ZM1084.22 53.75v6.0M1084.22 640.3v-6.0M1146.95 53.75v6.0M1146.95 640.3v-6.0M1209.67 53.75v6.0M1209.67 640.3v-6.0M1272.40 53.75v6.0M1272.40 640.3v-6.0M1335.12 53.75v6.0M1335.12 640.3v-6.0M1397.85 53.75v6.0M1397.85 640.3v-6.0M1460.57 53.75v6.0M1460.57 640.3v-6.0M1021.5 111.84h6.0M1523.3 111.84h-6.0M1021.5 169.93h6.0M1523.3 169.93h-6.0M1021.5 228.02h6.0M1523.3 228.02h-6.0M1021.5 286.11h6.0M1523.3 286.11h-6.0M1021.5 344.20h6.0M1523.3 344.20h-6.0M1021.5 402.29h6.0M1523.3 402.29h-6.0M1021.5 460.38h6.0M1523.3 460.38h-6.0M1021.5 518.47h6.0M1523.3 518.47h-6.0M1021.5 576.56h6.0M1523.3 576.56h-6.0M1021.5 634.65h6.0M1523.3 634.65h-6.0" stroke="#707070" stroke-width="1.1" fill="none"/>
<polyline points="1146.95,53.75 1146.95,58.69 1146.95,73.65 1146.95,83.96 1146.95,109.95 1146.95,120.26 1146.95,130.28 1146.95,154.68 1146.95,179.22 1146.95,207.98 1146.95,221.48 1146.95,256.19 1146.95,290.90 1146.95,314.28 1146.95,352.33 1146.95,359.30 1146.95,366.56 1146.95,380.80 1146.95,392.41 1146.95,400.84 1146.95,415.22 1146.95,436.85 1146.95,469.96 1146.95,492.62 1146.95,513.39 1146.95,550.86 1146.95,561.17 1146.95,594.28 1146.95,607.93 1146.95,614.32" fill="none" stroke="#ff0000" stroke-width="1.8" stroke-dasharray="10 6.7"/>
<circle cx="1146.95" cy="53.75" r="4.5" fill="#ff0000"/>
<circle cx="1146.95" cy="58.69" r="4.5" fill="#ff0000"/>
<circle cx="1146.95" cy="73.65" r="4.5" fill="#ff0000"/>
<circle cx="1146.95" cy="83.96" r="4.5" fill="#ff0000"/>
<circle cx="1146.95" cy="109.95" r="4.5" fill="#ff0000"/>
<circle cx="1146.95" cy="120.26" r="4.5" fill="#ff0000"/>
<circle cx="1146.95" cy="130.28" r="4.5" fill="#ff0000"/>
<circle cx="1146.95" cy="154.68" r="4.5" fill="#ff0000"/>
<circle cx="1146.95" cy="179.22" r="4.5" fill="#ff0000"/>
<circle cx="1146.95" cy="207.98" r="4.5" fill="#ff0000"/>
<circle cx="1146.95" cy="221.48" r="4.5" fill="#ff0000"/>
<circle cx="1146.95" cy="256.19" r="4.5" fill="#ff0000"/>
<circle cx="1146.95" cy="290.90" r="4.5" fill="#ff0000"/>
<circle cx="1146.95" cy="314.28" r="4.5" fill="#ff0000"/>
<circle cx="1146.95" cy="352.33" r="4.5" fill="#ff0000"/>
<circle cx="1146.95" cy="359.30" r="4.5" fill="#ff0000"/>
<circle cx="1146.95" cy="366.56" r="4.5" fill="#ff0000"/>
<circle cx="1146.95" cy="380.80" r="4.5" fill="#ff0000"/>
<circle cx="1146.95" cy="392.41" r="4.5" fill="#ff0000"/>
<circle cx="1146.95" cy="400.84" r="4.5" fill="#ff0000"/>
<circle cx="1146.95" cy="415.22" r="4.5" fill="#ff0000"/>
<circle cx="1146.95" cy="436.85" r="4.5" fill="#ff0000"/>
<circle cx="1146.95" cy="469.96" r="4.5" fill="#ff0000"/>
<circle cx="1146.95" cy="492.62" r="4.5" fill="#ff0000"/>
<circle cx="1146.95" cy="513.39" r="4.5" fill="#ff0000"/>
<circle cx="1146.95" cy="550.86" r="4.5" fill="#ff0000"/>
<circle cx="1146.95" cy="561.17" r="4.5" fill="#ff0000"/>
<circle cx="1146.95" cy="594.28" r="4.5" fill="#ff0000"/>
<circle cx="1146.95" cy="607.93" r="4.5" fill="#ff0000"/>
<circle cx="1146.95" cy="614.32" r="4.5" fill="#ff0000"/>
<polyline points="1222.22,53.75 1222.22,58.69 1222.22,73.65 1209.67,83.96 1222.22,109.95 1222.22,120.26 1222.22,130.28 1222.22,154.68 1209.67,179.22 1197.13,207.98 1197.13,221.48 1197.13,256.19 1197.13,290.90 1197.13,314.28 1184.59,352.33 1184.59,359.30 1184.59,366.56 1172.04,380.80 1184.59,392.41 1172.04,400.84 1159.49,415.22 1172.04,436.85 1146.95,469.96 1159.49,492.62 1146.95,513.39 1134.40,550.86 1146.95,561.17 1146.95,594.28 1134.40,607.93 1146.95,614.32" fill="none" stroke="#ffbb00" stroke-width="1.8" stroke-dasharray="10 6.7"/>
<circle cx="1222.22" cy="53.75" r="4.5" fill="#ffbb00"/>
<circle cx="1222.22" cy="58.69" r="4.5" fill="#ffbb00"/>
<circle cx="1222.22" cy="73.65" r="4.5" fill="#ffbb00"/>
<circle cx="1209.67" cy="83.96" r="4.5" fill="#ffbb00"/>
<circle cx="1222.22" cy="109.95" r="4.5" fill="#ffbb00"/>
<circle cx="1222.22" cy="120.26" r="4.5" fill="#ffbb00"/>
<circle cx="1222.22" cy="130.28" r="4.5" fill="#ffbb00"/>
<circle cx="1222.22" cy="154.68" r="4.5" fill="#ffbb00"/>
<circle cx="1209.67" cy="179.22" r="4.5" fill="#ffbb00"/>
<circle cx="1197.13" cy="207.98" r="4.5" fill="#ffbb00"/>
<circle cx="1197.13" cy="221.48" r="4.5" fill="#ffbb00"/>
<circle cx="1197.13" cy="256.19" r="4.5" fill="#ffbb00"/>
<circle cx="1197.13" cy="290.90" r="4.5" fill="#ffbb00"/>
<circle cx="1197.13" cy="314.28" r="4.5" fill="#ffbb00"/>
<circle cx="1184.59" cy="352.33" r="4.5" fill="#ffbb00"/>
<circle cx="1184.59" cy="359.30" r="4.5" fill="#ffbb00"/>
<circle cx="1184.59" cy="366.56" r="4.5" fill="#ffbb00"/>
<circle cx="1172.04" cy="380.80" r="4.5" fill="#ffbb00"/>
<circle cx="1184.59" cy="392.41" r="4.5" fill="#ffbb00"/>
<circle cx="1172.04" cy="400.84" r="4.5" fill="#ffbb00"/>
<circle cx="1159.49" cy="415.22" r="4.5" fill="#ffbb00"/>
<circle cx="1172.04" cy="436.85" r="4.5" fill="#ffbb00"/>
<circle cx="1146.95" cy="469.96" r="4.5" fill="#ffbb00"/>
<circle cx="1159.49" cy="492.62" r="4.5" fill="#ffbb00"/>
<circle cx="1146.95" cy="513.39" r="4.5" fill="#ffbb00"/>
<circle cx="1134.40" cy="550.86" r="4.5" fill="#ffbb00"/>
<circle cx="1146.95" cy="561.17" r="4.5" fill="#ffbb00"/>
<circle cx="1146.95" cy="594.28" r="4.5" fill="#ffbb00"/>
<circle cx="1134.40" cy="607.93" r="4.5" fill="#ffbb00"/>
<circle cx="1146.95" cy="614.32" r="4.5" fill="#ffbb00"/>
<polyline points="1272.40,53.75 1272.40,58.69 1284.94,73.65 1272.40,83.96 1284.94,109.95 1272.40,120.26 1272.40,130.28 1272.40,154.68 1259.86,179.22 1247.31,207.98 1247.31,221.48 1234.76,256.19 1234.76,290.90 1234.76,314.28 1234.76,352.33 1222.22,359.30 1222.22,366.56 1209.67,380.80 1209.67,392.41 1209.67,400.84 1197.13,415.22 1197.13,436.85 1172.04,469.96 1172.04,492.62 1172.04,513.39 1159.49,550.86 1146.95,561.17 1146.95,594.28 1146.95,607.93 1146.95,614.32" fill="none" stroke="#80ff00" stroke-width="1.8" stroke-dasharray="10 6.7"/>
<circle cx="1272.40" cy="53.75" r="4.5" fill="#80ff00"/>
<circle cx="1272.40" cy="58.69" r="4.5" fill="#80ff00"/>
<circle cx="1284.94" cy="73.65" r="4.5" fill="#80ff00"/>
<circle cx="1272.40" cy="83.96" r="4.5" fill="#80ff00"/>
<circle cx="1284.94" cy="109.95" r="4.5" fill="#80ff00"/>
<circle cx="1272.40" cy="120.26" r="4.5" fill="#80ff00"/>
<circle cx="1272.40" cy="130.28" r="4.5" fill="#80ff00"/>
<circle cx="1272.40" cy="154.68" r="4.5" fill="#80ff00"/>
<circle cx="1259.86" cy="179.22" r="4.5" fill="#80ff00"/>
<circle cx="1247.31" cy="207.98" r="4.5" fill="#80ff00"/>
<circle cx="1247.31" cy="221.48" r="4.5" fill="#80ff00"/>
<circle cx="1234.76" cy="256.19" r="4.5" fill="#80ff00"/>
<circle cx="1234.76" cy="290.90" r="4.5" fill="#80ff00"/>
<circle cx="1234.76" cy="314.28" r="4.5" fill="#80ff00"/>
<circle cx="1234.76" cy="352.33" r="4.5" fill="#80ff00"/>
<circle cx="1222.22" cy="359.30" r="4.5" fill="#80ff00"/>
<circle cx="1222.22" cy="366.56" r="4.5" fill="#80ff00"/>
<circle cx="1209.67" cy="380.80" r="4.5" fill="#80ff00"/>
<circle cx="1209.67" cy="392.41" r="4.5" fill="#80ff00"/>
<circle cx="1209.67" cy="400.84" r="4.5" fill="#80ff00"/>
<circle cx="1197.13" cy="415.22" r="4.5" fill="#80ff00"/>
<circle cx="1197.13" cy="436.85" r="4.5" fill="#80ff00"/>
<circle cx="1172.04" cy="469.96" r="4.5" fill="#80ff00"/>
<circle cx="1172.04" cy="492.62" r="4.5" fill="#80ff00"/>
<circle cx="1172.04" cy="513.39" r="4.5" fill="#80ff00"/>
<circle cx="1159.49" cy="550.86" r="4.5" fill="#80ff00"/>
<circle cx="1146.95" cy="561.17" r="4.5" fill="#80ff00"/>
<circle cx="1146.95" cy="594.28" r="4.5" fill="#80ff00"/>
<circle cx="1146.95" cy="607.93" r="4.5" fill="#80ff00"/>
<circle cx="1146.95" cy="614.32" r="4.5" fill="#80ff00"/>
<polyline points="1297.49,53.75 1310.03,58.69 1322.58,73.65 1297.49,83.96 1310.03,109.95 1310.03,120.26 1310.03,130.28 1297.49,154.68 1297.49,179.22 1272.40,207.98 1284.94,221.48 1259.86,256.19 1259.86,290.90 1247.31,314.28 1247.31,352.33 1234.76,359.30 1222.22,366.56 1222.22,380.80 1222.22,392.41 1209.67,400.84 1209.67,415.22 1209.67,436.85 1184.59,469.96 1172.04,492.62 1159.49,513.39 1146.95,550.86 1146.95,561.17 1159.49,594.28 1146.95,607.93 1146.95,614.32" fill="none" stroke="#00f53d" stroke-width="1.8" stroke-dasharray="10 6.7"/>
<circle cx="1297.49" cy="53.75" r="4.5" fill="#00f53d"/>
<circle cx="1310.03" cy="58.69" r="4.5" fill="#00f53d"/>
<circle cx="1322.58" cy="73.65" r="4.5" fill="#00f53d"/>
<circle cx="1297.49" cy="83.96" r="4.5" fill="#00f53d"/>
<circle cx="1310.03" cy="109.95" r="4.5" fill="#00f53d"/>
<circle cx="1310.03" cy="120.26" r="4.5" fill="#00f53d"/>
<circle cx="1310.03" cy="130.28" r="4.5" fill="#00f53d"/>
<circle cx="1297.49" cy="154.68" r="4.5" fill="#00f53d"/>
<circle cx="1297.49" cy="179.22" r="4.5" fill="#00f53d"/>
<circle cx="1272.40" cy="207.98" r="4.5" fill="#00f53d"/>
<circle cx="1284.94" cy="221.48" r="4.5" fill="#00f53d"/>
<circle cx="1259.86" cy="256.19" r="4.5" fill="#00f53d"/>
<circle cx="1259.86" cy="290.90" r="4.5" fill="#00f53d"/>
<circle cx="1247.31" cy="314.28" r="4.5" fill="#00f53d"/>
<circle cx="1247.31" cy="352.33" r="4.5" fill="#00f53d"/>
<circle cx="1234.76" cy="359.30" r="4.5" fill="#00f53d"/>
<circle cx="1222.22" cy="366.56" r="4.5" fill="#00f53d"/>
<circle cx="1222.22" cy="380.80" r="4.5" fill="#00f53d"/>
<circle cx="1222.22" cy="392.41" r="4.5" fill="#00f53d"/>
<circle cx="1209.67" cy="400.84" r="4.5" fill="#00f53d"/>
<circle cx="1209.67" cy="415.22" r="4.5" fill="#00f53d"/>
<circle cx="1209.67" cy="436.85" r="4.5" fill="#00f53d"/>
<circle cx="1184.59" cy="469.96" r="4.5" fill="#00f53d"/>
<circle cx="1172.04" cy="492.62" r="4.5" fill="#00f53d"/>
<circle cx="1159.49" cy="513.39" r="4.5" fill="#00f53d"/>
<circle cx="1146.95" cy="550.86" r="4.5" fill="#00f53d"/>
<circle cx="1146.95" cy="561.17" r="4.5" fill="#00f53d"/>
<circle cx="1159.49" cy="594.28" r="4.5" fill="#00f53d"/>
<circle cx="1146.95" cy="607.93" r="4.5" fill="#00f53d"/>
<circle cx="1146.95" cy="614.32" r="4.5" fill="#00f53d"/>
<polyline points="1071.68,53.75 1084.22,58.69 1096.77,73.65 1071.68,83.96 1084.22,109.95 1084.22,120.26 1084.22,130.28 1096.77,154.68 1096.77,179.22 1096.77,207.98 1096.77,221.48 1109.32,256.19 1109.32,290.90 1121.86,314.28 1121.86,352.33 1109.32,359.30 1109.32,366.56 1121.86,380.80 1121.86,392.41 1121.86,400.84 1109.32,415.22 1134.40,436.85 1109.32,469.96 1134.40,492.62 1134.40,513.39 1121.86,550.86 1121.86,561.17 1134.40,594.28 1134.40,607.93 1146.95,614.32" fill="none" stroke="#00ffff" stroke-width="1.8" stroke-dasharray="10 6.7"/>
<circle cx="1071.68" cy="53.75" r="4.5" fill="#00ffff"/>
<circle cx="1084.22" cy="58.69" r="4.5" fill="#00ffff"/>
<circle cx="1096.77" cy="73.65" r="4.5" fill="#00ffff"/>
<circle cx="1071.68" cy="83.96" r="4.5" fill="#00ffff"/>
<circle cx="1084.22" cy="109.95" r="4.5" fill="#00ffff"/>
<circle cx="1084.22" cy="120.26" r="4.5" fill="#00ffff"/>
<circle cx="1084.22" cy="130.28" r="4.5" fill="#00ffff"/>
<circle cx="1096.77" cy="154.68" r="4.5" fill="#00ffff"/>
<circle cx="1096.77" cy="179.22" r="4.5" fill="#00ffff"/>
<circle cx="1096.77" cy="207.98" r="4.5" fill="#00ffff"/>
<circle cx="1096.77" cy="221.48" r="4.5" fill="#00ffff"/>
<circle cx="1109.32" cy="256.19" r="4.5" fill="#00ffff"/>
<circle cx="1109.32" cy="290.90" r="4.5" fill="#00ffff"/>
<circle cx="1121.86" cy="314.28" r="4.5" fill="#00ffff"/>
<circle cx="1121.86" cy="352.33" r="4.5" fill="#00ffff"/>
<circle cx="1109.32" cy="359.30" r="4.5" fill="#00ffff"/>
<circle cx="1109.32" cy="366.56" r="4.5" fill="#00ffff"/>
<circle cx="1121.86" cy="380.80" r="4.5" fill="#00ffff"/>
<circle cx="1121.86" cy="392.41" r="4.5" fill="#00ffff"/>
<circle cx="1121.86" cy="400.84" r="4.5" fill="#00ffff"/>
<circle cx="1109.32" cy="415.22" r="4.5" fill="#00ffff"/>
<circle cx="1134.40" cy="436.85" r="4.5" fill="#00ffff"/>
<circle cx="1109.32" cy="469.96" r="4.5" fill="#00ffff"/>
<circle cx="1134.40" cy="492.62" r="4.5" fill="#00ffff"/>
<circle cx="1134.40" cy="513.39" r="4.5" fill="#00ffff"/>
<circle cx="1121.86" cy="550.86" r="4.5" fill="#00ffff"/>
<circle cx="1121.86" cy="561.17" r="4.5" fill="#00ffff"/>
<circle cx="1134.40" cy="594.28" r="4.5" fill="#00ffff"/>
<circle cx="1134.40" cy="607.93" r="4.5" fill="#00ffff"/>
<circle cx="1146.95" cy="614.32" r="4.5" fill="#00ffff"/>
<polyline points="1059.13,53.75 1071.68,58.69 1071.68,73.65 1059.13,83.96 1059.13,109.95 1071.68,120.26 1059.13,130.28 1071.68,154.68 1084.22,179.22 1084.22,207.98 1084.22,221.48 1096.77,256.19 1096.77,290.90 1109.32,314.28 1109.32,352.33 1109.32,359.30 1096.77,366.56 1109.32,380.80 1109.32,392.41 1109.32,400.84 1109.32,415.22 1134.40,436.85 1121.86,469.96 1134.40,492.62 1134.40,513.39 1134.40,550.86 1134.40,561.17 1134.40,594.28 1134.40,607.93 1146.95,614.32" fill="none" stroke="#0040ff" stroke-width="1.8" stroke-dasharray="10 6.7"/>
<circle cx="1059.13" cy="53.75" r="3.65" fill="none" stroke="#0040ff" stroke-width="2.0"/>
<circle cx="1071.68" cy="58.69" r="3.65" fill="none" stroke="#0040ff" stroke-width="2.0"/>
<circle cx="1071.68" cy="73.65" r="3.65" fill="none" stroke="#0040ff" stroke-width="2.0"/>
<circle cx="1059.13" cy="83.96" r="3.65" fill="none" stroke="#0040ff" stroke-width="2.0"/>
<circle cx="1059.13" cy="109.95" r="3.65" fill="none" stroke="#0040ff" stroke-width="2.0"/>
<circle cx="1071.68" cy="120.26" r="3.65" fill="none" stroke="#0040ff" stroke-width="2.0"/>
<circle cx="1059.13" cy="130.28" r="3.65" fill="none" stroke="#0040ff" stroke-width="2.0"/>
<circle cx="1071.68" cy="154.68" r="3.65" fill="none" stroke="#0040ff" stroke-width="2.0"/>
<circle cx="1084.22" cy="179.22" r="3.65" fill="none" stroke="#0040ff" stroke-width="2.0"/>
<circle cx="1084.22" cy="207.98" r="3.65" fill="none" stroke="#0040ff" stroke-width="2.0"/>
<circle cx="1084.22" cy="221.48" r="3.65" fill="none" stroke="#0040ff" stroke-width="2.0"/>
<circle cx="1096.77" cy="256.19" r="3.65" fill="none" stroke="#0040ff" stroke-width="2.0"/>
<circle cx="1096.77" cy="290.90" r="3.65" fill="none" stroke="#0040ff" stroke-width="2.0"/>
<circle cx="1109.32" cy="314.28" r="3.65" fill="none" stroke="#0040ff" stroke-width="2.0"/>
<circle cx="1109.32" cy="352.33" r="3.65" fill="none" stroke="#0040ff" stroke-width="2.0"/>
<circle cx="1109.32" cy="359.30" r="3.65" fill="none" stroke="#0040ff" stroke-width="2.0"/>
<circle cx="1096.77" cy="366.56" r="3.65" fill="none" stroke="#0040ff" stroke-width="2.0"/>
<circle cx="1109.32" cy="380.80" r="3.65" fill="none" stroke="#0040ff" stroke-width="2.0"/>
<circle cx="1109.32" cy="392.41" r="3.65" fill="none" stroke="#0040ff" stroke-width="2.0"/>
<circle cx="1109.32" cy="400.84" r="3.65" fill="none" stroke="#0040ff" stroke-width="2.0"/>
<circle cx="1109.32" cy="415.22" r="3.65" fill="none" stroke="#0040ff" stroke-width="2.0"/>
<circle cx="1134.40" cy="436.85" r="3.65" fill="none" stroke="#0040ff" stroke-width="2.0"/>
<circle cx="1121.86" cy="469.96" r="3.65" fill="none" stroke="#0040ff" stroke-width="2.0"/>
<circle cx="1134.40" cy="492.62" r="3.65" fill="none" stroke="#0040ff" stroke-width="2.0"/>
<circle cx="1134.40" cy="513.39" r="3.65" fill="none" stroke="#0040ff" stroke-width="2.0"/>
<circle cx="1134.40" cy="550.86" r="3.65" fill="none" stroke="#0040ff" stroke-width="2.0"/>
<circle cx="1134.40" cy="561.17" r="3.65" fill="none" stroke="#0040ff" stroke-width="2.0"/>
<circle cx="1134.40" cy="594.28" r="3.65" fill="none" stroke="#0040ff" stroke-width="2.0"/>
<circle cx="1134.40" cy="607.93" r="3.65" fill="none" stroke="#0040ff" stroke-width="2.0"/>
<circle cx="1146.95" cy="614.32" r="3.65" fill="none" stroke="#0040ff" stroke-width="2.0"/>
<text x="1021.50" y="660.2" font-family="Liberation Serif, serif" font-weight="bold" font-size="14.7" text-anchor="middle" fill="#111">-1</text>
<text x="1084.22" y="660.2" font-family="Liberation Serif, serif" font-weight="bold" font-size="14.7" text-anchor="middle" fill="#111">-0.5</text>
<text x="1146.95" y="660.2" font-family="Liberation Serif, serif" font-weight="bold" font-size="14.7" text-anchor="middle" fill="#111">0</text>
<text x="1209.67" y="660.2" font-family="Liberation Serif, serif" font-weight="bold" font-size="14.7" text-anchor="middle" fill="#111">0.5</text>
<text x="1272.40" y="660.2" font-family="Liberation Serif, serif" font-weight="bold" font-size="14.7" text-anchor="middle" fill="#111">1</text>
<text x="1335.12" y="660.2" font-family="Liberation Serif, serif" font-weight="bold" font-size="14.7" text-anchor="middle" fill="#111">1.5</text>
<text x="1397.85" y="660.2" font-family="Liberation Serif, serif" font-weight="bold" font-size="14.7" text-anchor="middle" fill="#111">2</text>
<text x="1460.57" y="660.2" font-family="Liberation Serif, serif" font-weight="bold" font-size="14.7" text-anchor="middle" fill="#111">2.5</text>
<text x="1523.30" y="660.2" font-family="Liberation Serif, serif" font-weight="bold" font-size="14.7" text-anchor="middle" fill="#111">3</text>
<text x="1015.3" y="58.85" font-family="Liberation Serif, serif" font-weight="bold" font-size="14.7" text-anchor="end" fill="#111">0</text>
<text x="1015.3" y="116.94" font-family="Liberation Serif, serif" font-weight="bold" font-size="14.7" text-anchor="end" fill="#111">20</text>
<text x="1015.3" y="175.03" font-family="Liberation Serif, serif" font-weight="bold" font-size="14.7" text-anchor="end" fill="#111">40</text>
<text x="1015.3" y="233.12" font-family="Liberation Serif, serif" font-weight="bold" font-size="14.7" text-anchor="end" fill="#111">60</text>
<text x="1015.3" y="291.21" font-family="Liberation Serif, serif" font-weight="bold" font-size="14.7" text-anchor="end" fill="#111">80</text>
<text x="1015.3" y="349.30" font-family="Liberation Serif, serif" font-weight="bold" font-size="14.7" text-anchor="end" fill="#111">100</text>
<text x="1015.3" y="407.39" font-family="Liberation Serif, serif" font-weight="bold" font-size="14.7" text-anchor="end" fill="#111">120</text>
<text x="1015.3" y="465.48" font-family="Liberation Serif, serif" font-weight="bold" font-size="14.7" text-anchor="end" fill="#111">140</text>
<text x="1015.3" y="523.57" font-family="Liberation Serif, serif" font-weight="bold" font-size="14.7" text-anchor="end" fill="#111">160</text>
<text x="1015.3" y="581.66" font-family="Liberation Serif, serif" font-weight="bold" font-size="14.7" text-anchor="end" fill="#111">180</text>
<text x="1015.3" y="639.75" font-family="Liberation Serif, serif" font-weight="bold" font-size="14.7" text-anchor="end" fill="#111">200</text>
<rect x="1237.4" y="505.4" width="158.4" height="125" fill="#fff" stroke="#4a4a4a" stroke-width="0.8"/>
<clipPath id="cG"><rect x="1240.3" y="508.1" width="42" height="22.1"/></clipPath>
<rect x="1240" y="507.8" width="42.6" height="22.70" fill="#5b9bd5" stroke="#2c4f73" stroke-width="0.8"/>
<rect x="1240" y="539.8" width="42.6" height="23.40" fill="url(#lG)" stroke="#2a5a2a" stroke-width="0.8"/>
<rect x="1240" y="572.5" width="42.6" height="22.90" fill="url(#lY)" stroke="#5a5a3a" stroke-width="0.8"/>
<rect x="1240" y="604.4" width="42.6" height="23.50" fill="#f9a34c" stroke="#5a3a1a" stroke-width="0.8"/>
<g clip-path="url(#cG)" fill="none" stroke="#27486b" stroke-width="0.8"><circle cx="1253.4" cy="508.75" r="3.5"/><circle cx="1269.7" cy="508.75" r="3.5"/><circle cx="1253.4" cy="519.4" r="3.5"/><circle cx="1269.7" cy="519.4" r="3.5"/><circle cx="1253.4" cy="529.2" r="3.5"/><circle cx="1269.7" cy="529.2" r="3.5"/><circle cx="1245.1" cy="514.1" r="3.5"/><circle cx="1261.2" cy="514.1" r="3.5"/><circle cx="1277.5" cy="514.1" r="3.5"/><circle cx="1245.1" cy="524.3" r="3.5"/><circle cx="1261.2" cy="524.3" r="3.5"/><circle cx="1277.5" cy="524.3" r="3.5"/></g>
<clipPath id="cO"><rect x="1240.4" y="604.8" width="41.8" height="22.7"/></clipPath>
<g clip-path="url(#cO)"><path d="M1229.00 627.75L1247.68 604.4M1237.00 627.75L1255.68 604.4M1251.00 627.75L1269.68 604.4M1259.00 627.75L1277.68 604.4M1274.50 627.75L1293.18 604.4M1282.50 627.75L1301.18 604.4" stroke="#3a2410" stroke-width="0.75" fill="none"/>
<path d="M1249.40 606.5h1.2M1247.5 609.25H1251M1242.90 614.25h1.2M1240.5 617.25H1244.5M1264.40 613.5h1.2M1262 616.5H1266M1271.90 605.5h1.2M1270 609.25H1274M1257.15 622.25h1.2M1255 625.25H1259M1279.40 624h1.2M1277 626.75H1281.5" stroke="#3a2410" stroke-width="0.9" stroke-dasharray="1.1 0.5" fill="none"/></g>
<text x="1285.3" y="524.3" font-family="Liberation Serif, Noto Serif CJK SC, serif" font-size="14.5" fill="#1a1a1a" textLength="29.5" lengthAdjust="spacingAndGlyphs">礫石</text>
<text x="1285.3" y="556.7" font-family="Liberation Serif, Noto Serif CJK SC, serif" font-size="14.5" fill="#1a1a1a" textLength="60.5" lengthAdjust="spacing">粗、中砂</text>
<text x="1285.3" y="589.1" font-family="Liberation Serif, Noto Serif CJK SC, serif" font-size="14.5" fill="#1a1a1a" textLength="76" lengthAdjust="spacing">細、極細砂</text>
<text x="1285.3" y="621.4" font-family="Liberation Serif, Noto Serif CJK SC, serif" font-size="14.5" fill="#1a1a1a" textLength="106.5" lengthAdjust="spacing">粉砂、泥、黏土</text>
<rect x="1401.3" y="527.5" width="111.7" height="103" fill="#fff" stroke="#4a4a4a" stroke-width="0.9"/>
<path d="M1405.3 537.2h7.4M1434.4 537.2h7.4" stroke="#ff0000" stroke-width="1.8"/>
<circle cx="1424.2" cy="537.2" r="4.4" fill="#ff0000"/>
<text x="1446.6" y="542.00" font-family="Liberation Serif, serif" font-weight="bold" font-size="14.3" fill="#111" textLength="62" lengthAdjust="spacingAndGlyphs">2024/02/01</text>
<path d="M1405.3 553.9h7.4M1434.4 553.9h7.4" stroke="#ffbb00" stroke-width="1.8"/>
<circle cx="1424.2" cy="553.9" r="4.4" fill="#ffbb00"/>
<text x="1446.6" y="558.70" font-family="Liberation Serif, serif" font-weight="bold" font-size="14.3" fill="#111" textLength="62" lengthAdjust="spacingAndGlyphs">2024/04/08</text>
<path d="M1405.3 570.6h7.4M1434.4 570.6h7.4" stroke="#80ff00" stroke-width="1.8"/>
<circle cx="1424.2" cy="570.6" r="4.4" fill="#80ff00"/>
<text x="1446.6" y="575.40" font-family="Liberation Serif, serif" font-weight="bold" font-size="14.3" fill="#111" textLength="62" lengthAdjust="spacingAndGlyphs">2024/06/05</text>
<path d="M1405.3 587.2h7.4M1434.4 587.2h7.4" stroke="#00f53d" stroke-width="1.8"/>
<circle cx="1424.2" cy="587.2" r="4.4" fill="#00f53d"/>
<text x="1446.6" y="592.00" font-family="Liberation Serif, serif" font-weight="bold" font-size="14.3" fill="#111" textLength="62" lengthAdjust="spacingAndGlyphs">2024/08/01</text>
<path d="M1405.3 603.9h7.4M1434.4 603.9h7.4" stroke="#00ffff" stroke-width="1.8"/>
<circle cx="1424.2" cy="603.9" r="4.4" fill="#00ffff"/>
<text x="1446.6" y="608.70" font-family="Liberation Serif, serif" font-weight="bold" font-size="14.3" fill="#111" textLength="62" lengthAdjust="spacingAndGlyphs">2024/10/08</text>
<path d="M1405.3 620.6h7.4M1434.4 620.6h7.4" stroke="#0040ff" stroke-width="1.8"/>
<path d="M1420.4 620.6h7.6" stroke="#0040ff" stroke-width="1.8"/><circle cx="1424.2" cy="620.6" r="3.7" fill="none" stroke="#0040ff" stroke-width="1.9"/>
<text x="1446.6" y="625.40" font-family="Liberation Serif, serif" font-weight="bold" font-size="14.3" fill="#111" textLength="62" lengthAdjust="spacingAndGlyphs">2024/11/19</text>
<text x="1272.4" y="47.8" font-family="Liberation Sans, Noto Sans CJK TC, sans-serif" font-weight="bold" font-size="17.4" text-anchor="middle" fill="#111" textLength="70" lengthAdjust="spacingAndGlyphs">頂寮安檢</text>
<text x="1164" y="684" font-family="Liberation Sans, Noto Sans CJK TC, sans-serif" font-size="17.7" fill="#2e2e2e" textLength="177" lengthAdjust="spacingAndGlyphs">相對井底之累積壓縮量</text>
<text x="1343.0" y="684.6" font-family="Liberation Sans, sans-serif" font-size="18.8" fill="#2e2e2e" textLength="36.3" lengthAdjust="spacingAndGlyphs">(cm)</text>
<g transform="translate(983.3,382.2) rotate(-90)"><text x="0.3" y="0" font-family="Liberation Sans, Noto Sans CJK TC, sans-serif" font-size="16" fill="#2e2e2e" textLength="31.4" lengthAdjust="spacingAndGlyphs">深度</text><text x="40.60" y="0.4" font-family="Liberation Sans, sans-serif" font-size="18.2" fill="#2e2e2e" textLength="27" lengthAdjust="spacingAndGlyphs">(m)</text></g>
</svg></body></html>
